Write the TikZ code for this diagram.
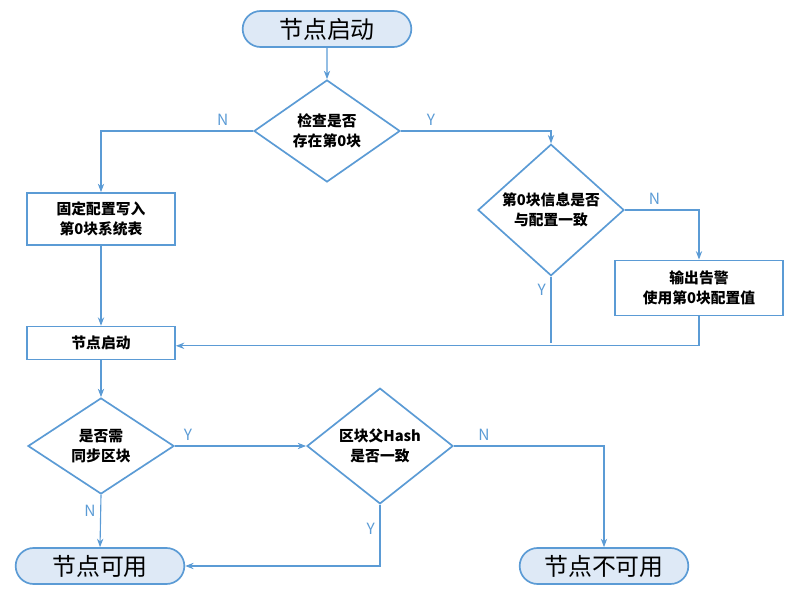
\documentclass[tikz,border=0pt]{standalone}
\usepackage{fontspec}
\setmainfont{Noto Sans CJK SC}
\usetikzlibrary{shapes.geometric,shapes.misc,arrows.meta,positioning}
\definecolor{lineblue}{RGB}{91,155,213}
\definecolor{fillblue}{RGB}{222,233,246}
\tikzset{
  term/.style={rounded rectangle,draw=lineblue,fill=fillblue,line width=1.2pt,
    minimum width=4.45cm,minimum height=0.9cm,font=\fontsize{17}{20}\selectfont},
  proc/.style={rectangle,draw=lineblue,line width=1.2pt,fill=white,align=center,
    font=\bfseries\fontsize{10.5}{14}\selectfont},
  test/.style={diamond,draw=lineblue,line width=1.2pt,fill=white,align=center,inner sep=0pt,
    minimum width=3.65cm,minimum height=2.4cm,font=\bfseries\fontsize{10.5}{14}\selectfont},
  flow/.style={draw=lineblue,line width=0.8pt,-{Stealth[length=6pt]}},
  tag/.style={text=lineblue,font=\fontsize{11}{12}\selectfont}
}
\begin{document}
\begin{tikzpicture}[x=0.025cm,y=-0.025cm]
\useasboundingbox (0,0) rectangle (800,596);
\node[term] (start) at (327,29) {节点启动};
\node[test] (hasblk) at (327,131) {检查是否\\存在第0块};
\node[proc,minimum width=3.7cm,minimum height=1.3cm] (write) at (101,219) {固定配置写入\\第0块系统表};
\node[test] (same) at (551,210) {第0块信息是否\\与配置一致};
\node[proc,minimum width=4.2cm,minimum height=1.38cm] (warn) at (699,288) {输出告警\\使用第0块配置值};
\node[proc,minimum width=3.7cm,minimum height=0.82cm] (boot) at (101,343) {节点启动};
\node[test] (sync) at (101,446) {是否需\\同步区块};
\node[test] (hash) at (380,446) {区块父Hash\\是否一致};
\node[term] (ok) at (100,566) {节点可用};
\node[term] (fail) at (604,566) {节点不可用};
\coordinate (join) at (boot.east -| warn.south);
% connectors
\draw[flow] (start) -- (hasblk);
\draw[flow] (hasblk.west) -| (write.north) node[tag,pos=0.1,above] {N};
\draw[flow] (hasblk.east) -| (same.north) node[tag,pos=0.1,above] {Y};
\draw[flow] (write) -- (boot);
\draw[flow] (same.east) -| (warn.north) node[tag,pos=0.2,above] {N};
\draw[draw=lineblue,line width=0.8pt] (same.south) -- (same.south |- boot.east)
  node[tag,pos=0.2,left] {Y};
\draw[flow] (warn.south) -- ([yshift=-2pt]join) -- ([yshift=-2pt]boot.east);
\draw[flow] (boot) -- (sync);
\draw[flow] (sync.east) -- (hash.west) node[tag,pos=0.1,above] {Y};
\draw[flow] (sync.south) -- (ok.north) node[tag,pos=0.3,left] {N};
\draw[flow] (hash.south) |- (ok.east) node[tag,pos=0.2,left] {Y};
\draw[flow] (hash.east) -| (fail.north) node[tag,pos=0.1,above] {N};
\end{tikzpicture}
\end{document}
